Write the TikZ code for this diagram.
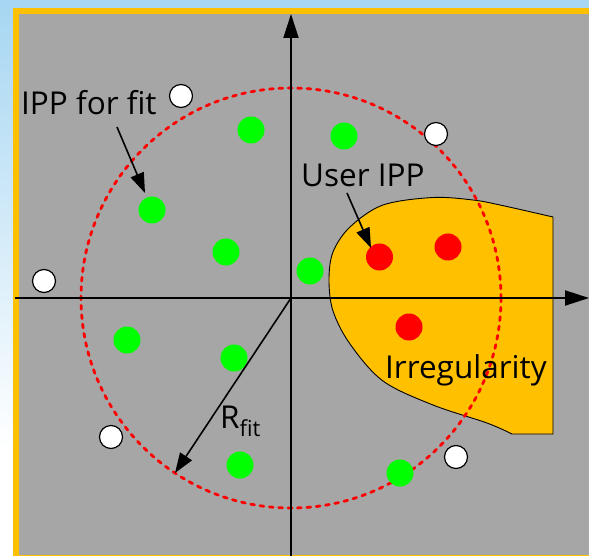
\documentclass[tikz,border=0pt]{standalone}
\usepackage{fontspec}
\setmainfont{Open Sans}
\usetikzlibrary{arrows.meta}
\definecolor{bgblue}{RGB}{166,214,242}
\definecolor{framegold}{RGB}{255,192,0}
\definecolor{panelgray}{RGB}{166,166,166}
\definecolor{ippgreen}{RGB}{0,255,0}
\definecolor{ippred}{RGB}{255,0,0}
\tikzset{
  fitdot/.style={circle, fill=ippgreen, minimum size=27pt, inner sep=0pt},
  userdot/.style={circle, fill=ippred, minimum size=27pt, inner sep=0pt},
  opendot/.style={circle, draw=black, line width=1.2pt, fill=white, minimum size=23pt, inner sep=0pt},
  lbl/.style={font=\fontsize{31.5}{38}\selectfont, inner sep=0pt, anchor=base west},
  axisline/.style={line width=2pt, -{Triangle[length=24pt,width=15pt]}},
  pointer/.style={line width=1.6pt, -{Triangle[length=20pt,width=14pt]}},
  fitcircle/.style={draw=ippred, line width=2.8pt, line cap=round, dash pattern=on 3.8pt off 5.6pt},
  irregular/.style={draw=black, line width=0.9pt, fill=framegold}
}
\begin{document}
\begin{tikzpicture}[x=1pt, y=-1pt]
\useasboundingbox (0,0) rectangle (589,556);
% backdrop and framed panel
\fill[white] (0,0) rectangle (589,556);
\shade[top color=bgblue, bottom color=white] (0,0) rectangle (589,450);
\fill[framegold] (13,8) rectangle (589,556);
\fill[panelgray] (19,14) rectangle (589,554.5);

% irregularity region
\draw[irregular] plot[smooth, tension=0.55] coordinates {
  (512,434) (487,423) (433,405) (383,381) (350,344) (333,311) (329,280)
  (333,252) (350,227) (383,205) (433,197.5) (473,200) (500,205) (553,217)}
  -- (553,434) -- cycle;

% fit circle
\coordinate (O) at (291,298);
\draw[fitcircle] (O) circle[radius=210];

% axes
\coordinate (xL) at (15,298);
\coordinate (xR) at (589,298);
\coordinate (yB) at (291,556);
\coordinate (yT) at (291,14);
\draw[axisline] (xL) -- (xR);
\draw[axisline] (yB) -- (yT);

% IPPs used for the fit
\node[fitdot] (g1) at (251,130) {};
\node[fitdot] (g2) at (344,136) {};
\node[fitdot] (g3) at (152,210) {};
\node[fitdot] (g4) at (226,252) {};
\node[fitdot] (g5) at (310,271) {};
\node[fitdot] (g6) at (127,340) {};
\node[fitdot] (g7) at (234,358) {};
\node[fitdot] (g8) at (240,465) {};
\node[fitdot] (g9) at (400,473) {};

% IPPs outside the fit radius
\node[opendot] (w1) at (181,96) {};
\node[opendot] (w2) at (436,134) {};
\node[opendot] (w3) at (44,281) {};
\node[opendot] (w4) at (111,437) {};
\node[opendot] (w5) at (456,457) {};

% user IPPs
\node[userdot] (r1) at (379.5,257) {};
\node[userdot] (r2) at (448,247) {};
\node[userdot] (r3) at (409,327) {};

% labels
\node[lbl] (lfit) at (21,115) {IPP for fit};
\node[lbl] (luser) at (301,187) {User IPP};
\node[lbl] (lirr) at (385,378) {Irregularity};
\node[lbl] (lrad) at (220,428) {R\textsubscript{fit}};

% pointers
\coordinate (fitTail) at (117,127);
\coordinate (fitTip) at (145,193);
\draw[pointer] (fitTail) -- (fitTip);
\coordinate (userTail) at (347,193);
\coordinate (userTip) at (371,248);
\draw[pointer] (userTail) -- (userTip);
\coordinate (radTip) at (175,473);
\draw[pointer] (O) -- (radTip);
\end{tikzpicture}
\end{document}
